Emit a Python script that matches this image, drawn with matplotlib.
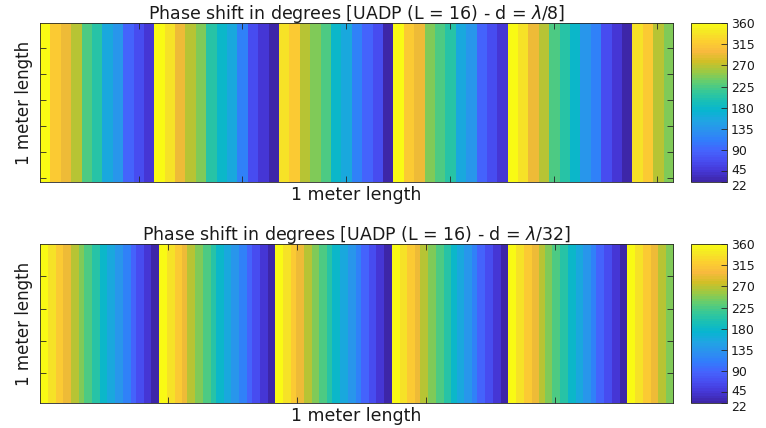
import numpy as np
import matplotlib.pyplot as plt
from matplotlib.colors import LinearSegmentedColormap, Normalize
from matplotlib.transforms import ScaledTranslation

plt.rcParams['font.family'] = ['DejaVu Sans']
plt.rcParams['mathtext.fontset'] = 'dejavusans'

# phase levels of the 16 state phase shifter (degrees)
levels = [360, 337.5, 315, 292.5, 270, 247.5, 225, 202.5,
          180, 157.5, 135, 112.5, 90, 67.5, 45, 22.5]

# d = lambda/8 : one value per element along the 1 m aperture
phase_l8 = [360, 315, 292.5, 270, 225, 202.5, 157.5, 135, 90, 67.5, 45,
            360, 337.5, 292.5, 270, 247.5, 202.5, 180, 157.5, 112.5, 67.5, 45, 22.5,
            337.5, 315, 270, 247.5, 225, 180, 157.5, 112.5, 90, 67.5, 22.5,
            360, 315, 292.5, 247.5, 225, 202.5, 157.5, 135, 90, 67.5, 45,
            360, 337.5, 292.5, 270, 225, 202.5, 180, 135, 112.5, 67.5, 45, 22.5,
            337.5, 315, 270, 247.5]

# d = lambda/32 : stripes of equal phase and how many elements each covers
stripe_l32 = levels * 5 + levels[:6]
count_l32 = [3, 3, 3, 3, 3, 2, 3, 3, 3, 3, 3, 3, 2, 3, 3, 3,
             3, 3, 3, 2, 3, 3, 3, 2, 3, 3, 3, 3, 2, 3, 3, 3,
             3, 3, 2, 3, 3, 3, 3, 2, 3, 3, 3, 2, 3, 3, 3, 3,
             3, 3, 3, 2, 3, 3, 3, 3, 2, 3, 3, 2, 3, 3, 3, 3,
             3, 3, 3, 3, 2, 3, 3, 3, 3, 3, 3, 2, 3, 3, 3, 3,
             3, 3, 3, 3, 3, 3]
phase_l32 = np.repeat(stripe_l32, count_l32)

cbar_ticks = [22.5, 45, 90, 135, 180, 225, 270, 315, 360]
cbar_labels = ['22', '45', '90', '135', '180', '225', '270', '315', '360']

# parula
parula_pts = [
    (0.2422, 0.1504, 0.6603), (0.2706, 0.2147, 0.8364), (0.2813, 0.3006, 0.9414),
    (0.2699, 0.3892, 0.9906), (0.1963, 0.4847, 0.9892), (0.1687, 0.5703, 0.9359),
    (0.1248, 0.6459, 0.8883), (0.0297, 0.7082, 0.8163), (0.0964, 0.7500, 0.7120),
    (0.2161, 0.7843, 0.5923), (0.3909, 0.8029, 0.4354), (0.6174, 0.7876, 0.2612),
    (0.8203, 0.7498, 0.1535), (0.9728, 0.7298, 0.2394), (0.9892, 0.8136, 0.1885),
    (0.9597, 0.9135, 0.1423), (0.9769, 0.9839, 0.0805)]
pos = [i * 4 / 63 for i in range(16)] + [1.0]
parula = LinearSegmentedColormap.from_list('parula', list(zip(pos, parula_pts)), N=64)
norm = Normalize(vmin=22.5, vmax=360)

axcol = '#262626'
txtcol = '#1a1a1a'

fig = plt.figure(figsize=(7.66, 4.28), dpi=100)

panels = [
    (phase_l8, r'Phase shift in degrees [UADP (L = 16) - d = $\lambda$/8]',
     [10, 20, 30, 40, 50, 60], 0.5748),
    (phase_l32, r'Phase shift in degrees [UADP (L = 16) - d = $\lambda$/32]',
     [50, 100, 150, 200], 0.0584),
]

for vals, title, ticks, y0 in panels:
    n = len(vals)
    grid = np.tile(np.asarray(vals, dtype=float), (n, 1))
    ax = fig.add_axes([0.0522, y0, 0.8264, 0.3715])
    im = ax.imshow(grid, cmap=parula, norm=norm, aspect='auto',
                   interpolation='nearest',
                   extent=(0.5, n + 0.5, n + 0.5, 0.5))
    ax.set_xticks(ticks)
    ax.set_yticks(ticks)
    ax.tick_params(direction='in', top=True, right=True, length=4.5,
                   width=0.6, color=axcol, labelbottom=False, labelleft=False)
    for sp in ax.spines.values():
        sp.set_color(axcol)
        sp.set_linewidth(0.6)
    ax.set_title(title, fontsize=12.5, pad=3, color=txtcol)
    ax.set_xlabel('1 meter length', fontsize=12.5, labelpad=3, color=txtcol)
    ax.set_ylabel('1 meter length', fontsize=12, labelpad=5, color=txtcol)

    cax = fig.add_axes([0.902, y0, 0.047, 0.3715])
    cb = fig.colorbar(im, cax=cax, ticks=cbar_ticks)
    cb.set_ticklabels(cbar_labels)
    cb.outline.set_edgecolor(axcol)
    cb.outline.set_linewidth(0.6)
    cax.tick_params(direction='in', length=4, width=0.6, color=axcol,
                    labelsize=9, pad=3, labelcolor=txtcol)
    # the two lowest labels sit close together, spread them a little
    tl = cax.get_yticklabels()
    tl[0].set_transform(tl[0].get_transform() + ScaledTranslation(0, -2.5 / 72, fig.dpi_scale_trans))
    tl[1].set_transform(tl[1].get_transform() + ScaledTranslation(0, 2 / 72, fig.dpi_scale_trans))

fig.savefig('out.png', dpi=100)
